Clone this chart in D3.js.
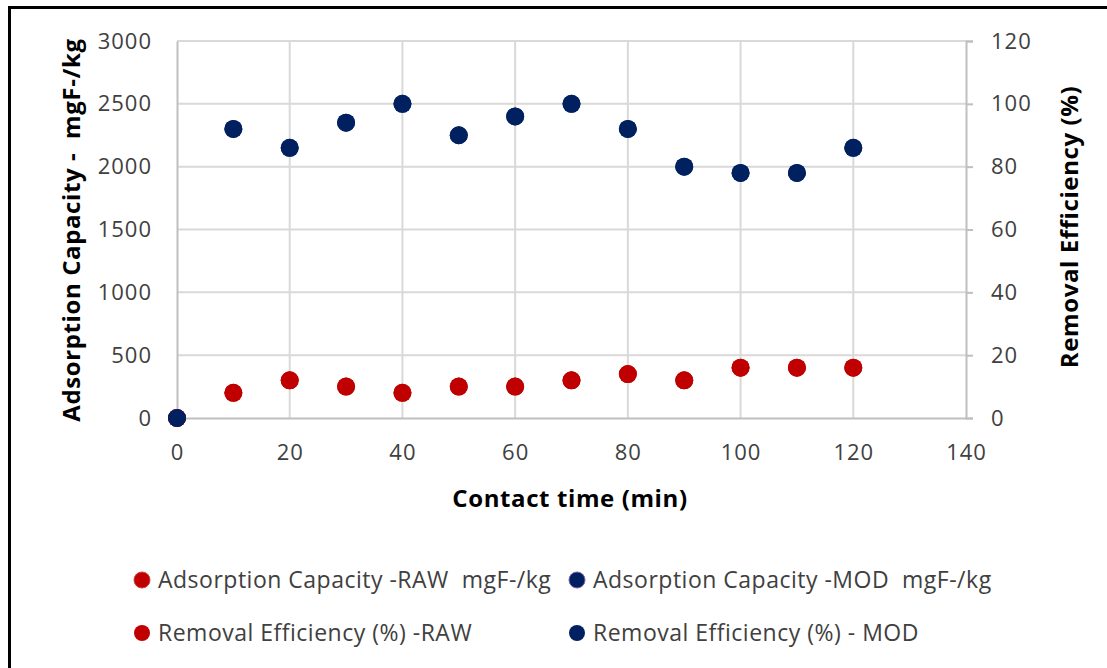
<!DOCTYPE html>
<html>
<head>
<meta charset="utf-8">
<script src="https://cdn.jsdelivr.net/npm/d3@7"></script>
<style>
  body { margin: 0; background: #fff; }
  text { font-family: "Open Sans", sans-serif; fill: #404040; white-space: pre; }
</style>
</head>
<body>
<div id="chart"></div>
<script>
// data
var time = [0, 10, 20, 30, 40, 50, 60, 70, 80, 90, 100, 110, 120];
var capRaw = [0, 200, 300, 250, 200, 250, 250, 300, 350, 300, 400, 400, 400];
var capMod = [0, 2300, 2150, 2350, 2500, 2250, 2400, 2500, 2300, 2000, 1950, 1950, 2150];
var effRaw = [0, 8, 12, 10, 8, 10, 10, 12, 14, 12, 16, 16, 16];
var effMod = [0, 92, 86, 94, 100, 90, 96, 100, 92, 80, 78, 78, 86];
var xTicks = [0, 20, 40, 60, 80, 100, 120, 140];
var yLeftTicks = [0, 500, 1000, 1500, 2000, 2500, 3000];
var yRightTicks = [0, 20, 40, 60, 80, 100, 120];

var W = 1107, H = 668;
var svg = d3.select("#chart").append("svg")
  .attr("width", W).attr("height", H);

// frame (only top and left visible in the crop)
svg.append("line").attr("x1", 9.5).attr("x2", W).attr("y1", 7.5).attr("y2", 7.5)
  .attr("stroke", "#000").attr("stroke-width", 3);
svg.append("line").attr("x1", 9.5).attr("x2", 9.5).attr("y1", 6).attr("y2", H)
  .attr("stroke", "#000").attr("stroke-width", 3);

var x = d3.scaleLinear().domain([0, 140]).range([177, 966]);
var yL = d3.scaleLinear().domain([0, 3000]).range([418, 41]);
var yR = d3.scaleLinear().domain([0, 120]).range([418, 41]);

// gridlines
svg.append("g").selectAll("line").data(yLeftTicks.slice(1)).enter().append("line")
  .attr("x1", x(0)).attr("x2", x(140))
  .attr("y1", function(d) { return yL(d); }).attr("y2", function(d) { return yL(d); })
  .attr("stroke", "#d9d9d9").attr("stroke-width", 2);
svg.append("g").selectAll("line").data(xTicks.slice(1, -1)).enter().append("line")
  .attr("x1", function(d) { return x(d); }).attr("x2", function(d) { return x(d); })
  .attr("y1", yL(0)).attr("y2", yL(3000))
  .attr("stroke", "#d9d9d9").attr("stroke-width", 2);

// axes
var fmt = d3.format("d");
var axL = svg.append("g").attr("transform", "translate(" + x(0) + ",0)")
  .call(d3.axisLeft(yL).tickValues(yLeftTicks).tickFormat(fmt).tickSize(0).tickPadding(25));
var axB = svg.append("g").attr("transform", "translate(0," + yL(0) + ")")
  .call(d3.axisBottom(x).tickValues(xTicks).tickFormat(fmt).tickSize(0).tickPadding(26));
var axR = svg.append("g").attr("transform", "translate(" + x(140) + ",0)")
  .call(d3.axisRight(yR).tickValues(yRightTicks).tickFormat(fmt).tickSize(7).tickPadding(18));
[axL, axB, axR].forEach(function(a) {
  a.select(".domain").attr("stroke", "#bfbfbf").attr("stroke-width", 2);
  a.selectAll(".tick line").attr("stroke", "#bfbfbf").attr("stroke-width", 2);
  a.selectAll(".tick text").style("font-size", "22px").style("letter-spacing", "1px")
    .attr("fill", "#404040").style("font-family", "'Open Sans', sans-serif");
});

// points
function dots(vals, yScale, color) {
  svg.append("g").selectAll("circle").data(vals).enter().append("circle")
    .attr("cx", function(d, i) { return x(time[i]); })
    .attr("cy", function(d) { return yScale(d); })
    .attr("r", 9)
    .attr("fill", color);
}
dots(capRaw, yL, "#c00000");
dots(capMod, yL, "#002060");
dots(effRaw, yR, "#c00000");
dots(effMod, yR, "#002060");

// axis titles
function title(txt) {
  return svg.append("text").attr("text-anchor", "middle")
    .style("font-size", "24px").style("font-weight", "bold").style("letter-spacing", "0.6px")
    .style("fill", "#000").text(txt);
}
title("Adsorption Capacity -  mgF-/kg").attr("transform", "translate(80,230) rotate(-90)");
title("Removal Efficiency (%)").attr("transform", "translate(1078,227) rotate(-90)");
title("Contact time (min)").attr("x", 570).attr("y", 507);

// legend
var legendNames = ["Adsorption Capacity -RAW  mgF-/kg", "Adsorption Capacity -MOD  mgF-/kg",
  "Removal Efficiency (%) -RAW", "Removal Efficiency (%) - MOD"];
var legendColors = ["#c00000", "#002060", "#c00000", "#002060"];
var legend = svg.append("g").selectAll("g").data(legendNames).enter().append("g")
  .attr("transform", function(d, i) {
    return "translate(" + (i % 2 ? 577 : 142) + "," + (i < 2 ? 580 : 633) + ")";
  });
legend.append("circle").attr("r", 8).attr("fill", function(d, i) { return legendColors[i]; })
  .attr("stroke", function(d, i) { return i == 1 ? "#7a5fa8" : i == 0 ? "#d04040" : "none"; })
  .attr("stroke-width", 1);
legend.append("text").attr("x", 16).attr("dy", "0.35em")
  .style("font-size", "23px").style("letter-spacing", "0.5px")
  .text(function(d) { return d; });
</script>
</body>
</html>
